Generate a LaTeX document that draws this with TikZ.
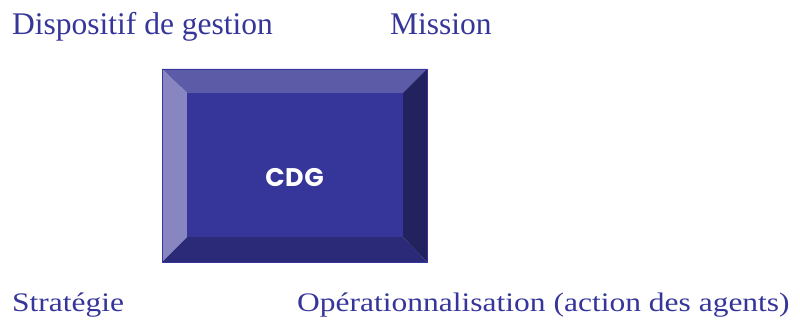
\documentclass[tikz,border=0pt]{standalone}
\usepackage{fontspec}
\setmainfont{Liberation Serif}
\newfontfamily\cdgfont{Poppins}
\usepackage{tikz}
\definecolor{cdgblue}{HTML}{35359A}
\definecolor{bevtop}{HTML}{5B5BA8}
\definecolor{bevleft}{HTML}{8886C0}
\definecolor{bevbottom}{HTML}{2A2A78}
\definecolor{bevright}{HTML}{22225F}
\tikzset{word/.style={text=cdgblue, inner sep=0pt, anchor=base west,
    font=\fontsize{31.5}{36}\selectfont}}

\begin{document}
\begin{tikzpicture}
  [x=1pt, y=1pt, auto=center]
    \useasboundingbox (0,0) rectangle (800,323);
    % outer and inner corners of the box
    \foreach \num/\x/\y in {1/162/254,2/427/254,3/427/61,4/162/61}{
      \coordinate (o\num) at (\x,\y); }
    \foreach \num/\x/\y in {1/187/230,2/403/230,3/403/86,4/187/86}{
      \coordinate (i\num) at (\x,\y); }
    \foreach \a/\b/\col in {1/2/bevtop,2/3/bevright,3/4/bevbottom,4/1/bevleft}{
      \fill[\col] (o\a) -- (o\b) -- (i\b) -- (i\a) -- cycle;}
    \fill[cdgblue] (i1) rectangle (i3);
    \draw[cdgblue, line width=.6pt] (o1) rectangle (o3);
    \node[text=white, inner sep=0pt, font=\cdgfont\bfseries\fontsize{25.5}{28}\selectfont\addfontfeatures{LetterSpace=2}]
      (cdg) at (294.5,145.5) {CDG};
    % texts
    \node[word] (disp) at (12,288) {Dispositif de gestion};
    \node[word] (miss) at (390,288) {Mission};
    \node[word, yscale=.85] (strat) at (12,11) {Stratégie};
    \node[word, yscale=.85] (oper) at (297,11) {Opérationnalisation (action des agents)};
\end{tikzpicture}
\end{document}
